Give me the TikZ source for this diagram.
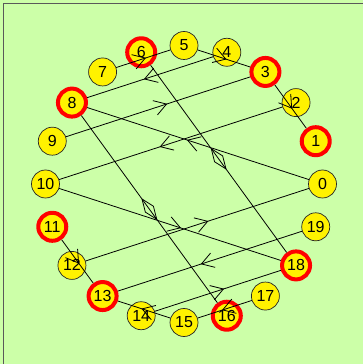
\documentclass[tikz,border=0pt]{standalone}
\usepackage{fontspec}
\setmainfont{Liberation Sans}
\usetikzlibrary{arrows.meta,decorations.markings}
\definecolor{bgreen}{RGB}{204,255,168}
\tikzset{
  vtx/.style={circle, draw=black!85, line width=0.7pt, fill=yellow, minimum size=28pt, inner sep=0pt, font=\fontsize{16}{16}\selectfont},
  hit/.style={draw=red, line width=4pt},
  midarr/.style={postaction={decorate}, decoration={markings, mark=at position #1 with {\arrow{Straight Barb[length=12pt,width=15pt]}}}},
  midarr/.default=0.55,
  middia/.style={postaction={decorate}, decoration={markings, mark=at position 0.5 with {\draw (-12.5pt,0) -- (0,5pt) -- (12.5pt,0) -- (0,-5pt) -- cycle;}}}
}
\begin{document}
\begin{tikzpicture}[x=1pt, y=1pt, line width=0.8pt, line join=round]
	\useasboundingbox[fill=bgreen] (0,0) rectangle (363,364);
	\draw[black!65] (3,-2) -- (3,361) -- (366,361);
	\begin{scope}[shift={(184,180)}]
		\foreach \k in {0,...,19} \node[vtx] (n\k) at (18*\k:138.5) {\k};
		\foreach \k in {1,3,6,8,11,13,16,18} \node[vtx,hit] (n\k) at (18*\k:138.5) {\k};
	\end{scope}
	\draw[midarr] (n7) -- (n5);
	\draw[midarr] (n5) -- (n3);
	\draw[midarr] (n3) -- (n1);
	\draw[midarr] (n11) -- (n13);
	\draw[midarr] (n15) -- (n13);
	\draw[midarr] (n17) -- (n15);
	\draw[midarr] (n4) -- (n8);
	\draw[midarr] (n9) -- (n3);
	\draw[midarr] (n2) -- (n10);
	\draw[midarr] (n0) -- (n8);
	\draw[midarr] (n10) -- (n18);
	\draw[midarr] (n12) -- (n0);
	\draw[midarr] (n19) -- (n13);
	\draw[midarr] (n14) -- (n18);
	\draw[middia] (n6) -- (n18);
	\draw[middia] (n8) -- (n16);
\end{tikzpicture}
\end{document}
